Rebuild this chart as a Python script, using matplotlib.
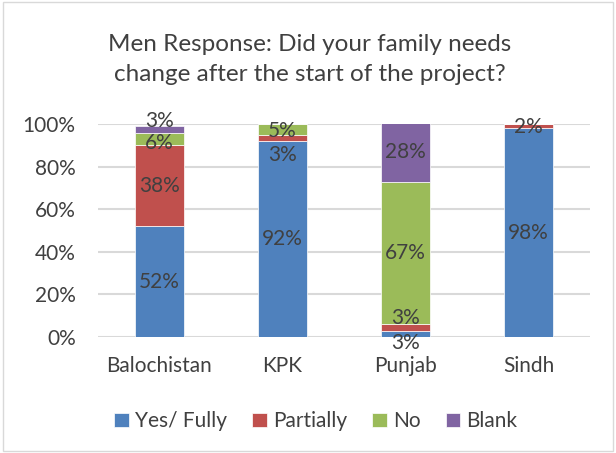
import matplotlib.pyplot as plt
import numpy as np
from matplotlib.patches import Rectangle

plt.rcParams['font.family'] = ['Lato', 'DejaVu Sans']

categories = ["Balochistan", "KPK", "Punjab", "Sindh"]
series_names = ["Yes/ Fully", "Partially", "No", "Blank"]
yes_fully = [52, 92, 3, 98]
partially = [38, 3, 3, 2]
no = [6, 5, 67, 0]
blank = [3, 0, 28, 0]
y_ticks = [0, 20, 40, 60, 80, 100]

colors = ["#4F81BD", "#C0504D", "#9BBB59", "#8064A2"]
text_color = "#404040"

# label nudges (in % units) to mimic Excel's overlap avoidance
nudge = {(0, 3): 4, (0, 2): -2, (1, 1): -8, (1, 2): -0.8,
         (2, 0): -4.3, (2, 1): 4.4, (3, 1): -0.4}

fig = plt.figure(figsize=(6.16, 4.53), dpi=100)
ax = fig.add_axes([0.159, 0.256, 0.799, 0.47])

x = np.arange(len(categories))
width = 0.4
bottom = np.zeros(len(categories))
all_series = [yes_fully, partially, no, blank]
for si, (name, vals, col) in enumerate(zip(series_names, all_series, colors)):
    vals = np.array(vals, dtype=float)
    ax.bar(x, vals, width, bottom=bottom, color=col, label=name,
           edgecolor="white", linewidth=0.5, zorder=3)
    for ci, v in enumerate(vals):
        if v <= 0:
            continue
        yc = bottom[ci] + v / 2 + nudge.get((ci, si), 0)
        ax.text(x[ci], yc, f"{int(v)}%", ha="center", va="center",
                fontsize=15, color=text_color, zorder=4, clip_on=False)
    bottom += vals

ax.set_ylim(0, 100)
ax.set_xlim(-0.5, 3.5)
ax.set_yticks(y_ticks)
ax.set_yticklabels([f"{t}%" for t in y_ticks], fontsize=15, color=text_color)
ax.set_xticks(x)
ax.set_xticklabels(categories, fontsize=15, color=text_color)
ax.tick_params(length=0)
ax.tick_params(axis="y", pad=16)
ax.tick_params(axis="x", pad=14)
ax.yaxis.grid(True, color="#D9D9D9", linewidth=1.5, zorder=0)
for s in ["top", "right", "left", "bottom"]:
    ax.spines[s].set_visible(False)

fig.text(0.503, 0.869, "Men Response: Did your family needs\nchange after the start of the project?",
         ha="center", va="center", fontsize=17.5, color=text_color, linespacing=1.5)

fig.legend(loc="center", bbox_to_anchor=(0.513, 0.07), ncol=4, frameon=False,
           fontsize=15, handlelength=0.7, handleheight=0.7, handletextpad=0.3,
           columnspacing=1.2, labelcolor=text_color)

fig.patches.append(Rectangle((0.005, 0.005), 0.99, 0.99, transform=fig.transFigure,
                             fill=False, edgecolor="#D9D9D9", linewidth=1))

plt.savefig("out.png", dpi=100)
